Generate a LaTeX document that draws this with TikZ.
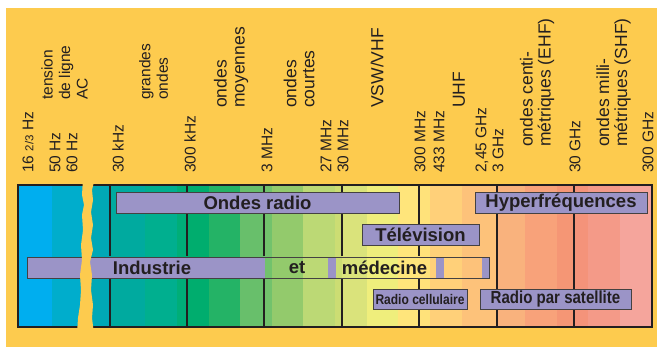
\documentclass[tikz,border=0pt]{standalone}
\usepackage{fontspec}
\setmainfont{Liberation Sans}
\newfontfamily\narrowfont[FakeStretch=0.86]{Liberation Sans}
\usetikzlibrary{calc}
\definecolor{bgyellow}{RGB}{253,203,78}
\definecolor{barviolet}{RGB}{155,148,199}
\definecolor{inkdark}{RGB}{35,31,32}
\newcommand{\stripes}{%
  \foreach \xa/\xb/\hex in {18/52/00AEEF, 52/88/00ADCC, 88/110/00A8B6, 110/145/00AA9F,
      145/177/00AF8F, 177/187/00AE78, 187/209/00AD6E, 209/240/24B366, 240/264/68BF6B,
      264/272/72C26C, 272/303/93CA6C, 303/335/BCD975, 335/342/CCDD73, 342/367/DAE37B,
      367/398/EFEE7C, 398/419/FFE57B, 419/430/FFE27A, 430/462/FFD079, 462/497/FDC27A,
      497/525/F9B27D, 525/557/F8A27A, 557/574/F59675, 574/588/F4937A, 588/620/F49A88,
      620/652/F5A59C}{
    \definecolor{stripe}{HTML}{\hex}
    \fill[stripe] (\xa,185) rectangle (\xb,327);
  }}

\begin{document}
\begin{tikzpicture}[
  x=1pt, y=-1pt,
  font=\fontsize{15.5}{17.5}\selectfont,
  freq/.style={rotate=90, anchor=west, inner sep=0pt, text=inkdark},
  band/.style={rotate=90, anchor=west, align=left, inner sep=0pt, text=inkdark},
  bigband/.style={band, font=\fontsize{17.5}{18}\selectfont},
  bar/.style={draw=inkdark!85, line width=0.9pt, fill=barviolet, minimum height=21, inner sep=0pt, text=inkdark, font=\fontsize{18.5}{20}\selectfont\bfseries},
  smallbar/.style={bar, minimum height=20, font=\fontsize{17.5}{19}\selectfont\narrowfont\bfseries},
  barlabel/.style={inner sep=0pt, text=inkdark, font=\fontsize{18.5}{20}\selectfont\bfseries}
]
\useasboundingbox (0,0) rectangle (657,347);
\fill[white] (0,0) rectangle (657,347);
\fill[bgyellow] (6,8) rectangle (657,347);

% spectrum stripes
\stripes
\foreach \x in {110,187,264,342,419,497,574}
  \draw[inkdark, line width=1.2pt] (\x,185) -- (\x,327);
\draw[inkdark, line width=1.4pt] (18,185) rectangle (652,327);

% frequency marks
\node[freq] (f16)  at (28,173)  {16 {\fontsize{11.5}{13}\selectfont 2/3} Hz};
\node[freq] (f50)  at (55,173)  {50 Hz};
\node[freq] (f60)  at (72,173)  {60 Hz};
\node[freq] (f30k) at (118,173) {30 kHz};
\node[freq] (f300k) at (190,173) {300 kHz};
\node[freq] (f3m)  at (267,173) {3 MHz};
\node[freq] (f27m) at (326,173) {27 MHz};
\node[freq] (f30m) at (343,173) {30 MHz};
\node[freq] (f300m) at (420,173) {300 MHz};
\node[freq] (f433m) at (439,173) {433 MHz};
\node[freq] (f245g) at (482,173) {2,45 GHz};
\node[freq] (f3g)  at (498,173) {3 GHz};
\node[freq] (f30g) at (575,173) {30 GHz};
\node[freq] (f300g) at (648,173) {300 GHz};

% band names
\node[band] (ac)    at (64.5,100) {tension\\de ligne\\AC};
\node[band] (lw)    at (153.5,100) {grandes\\ondes};
\node[bigband] (mw) at (231,108) {ondes\\moyennes};
\node[bigband] (sw) at (299,108) {ondes\\courtes};
\node[bigband] (vhf) at (377,108) {VSW/VHF};
\node[bigband] (uhf) at (459,108) {UHF};
\node[bigband] (ehf) at (537,147) {ondes centi-\\métriques (EHF)};
\node[bigband] (shf) at (613.5,147) {ondes milli-\\métriques (SHF)};

% bars
\node[bar, minimum width=283] (radio) at (257.5,202.5) {Ondes radio};
\node[bar, minimum width=172] (hyper) at (561,202.5) {Hyperfréquences};
\node[bar, minimum width=117] (tele) at (420.5,234.5) {Télévision};
\begin{scope}
  \clip (27,257) rectangle (489,278);
  \stripes
\end{scope}
\foreach \xa/\xb in {27/265, 328/336, 436/444, 482/489}
  \fill[barviolet] (\xa,257) rectangle (\xb,278);
\draw[inkdark!85, line width=0.9pt] (27,257) rectangle (489,278);
\node[barlabel] (indus) at (152,267.5) {Industrie};
\node[barlabel] (et) at (297,267.5) {et};
\node[barlabel] (med) at (384.5,267.5) {médecine};
\node[smallbar, minimum width=94, font=\fontsize{14}{15}\selectfont\narrowfont\bfseries] (cell) at (420,299) {Radio cellulaire};
\node[smallbar, minimum width=151] (sat) at (555.5,299) {Radio par satellite};

% break
\fill[bgyellow] (83,178) -- (82,195) -- (84,205) -- (82,215) -- (83,230) -- (81,245)
  -- (82,260) -- (80,275) -- (81,290) -- (80,305) -- (78,318) -- (77,334)
  -- (94,334) -- (92,318) -- (93,305) -- (91,290) -- (92,275) -- (90,262)
  -- (93,250) -- (91,238) -- (93,225) -- (91,212) -- (93,200) -- (92,190) -- (95,178) -- cycle;
\end{tikzpicture}
\end{document}
